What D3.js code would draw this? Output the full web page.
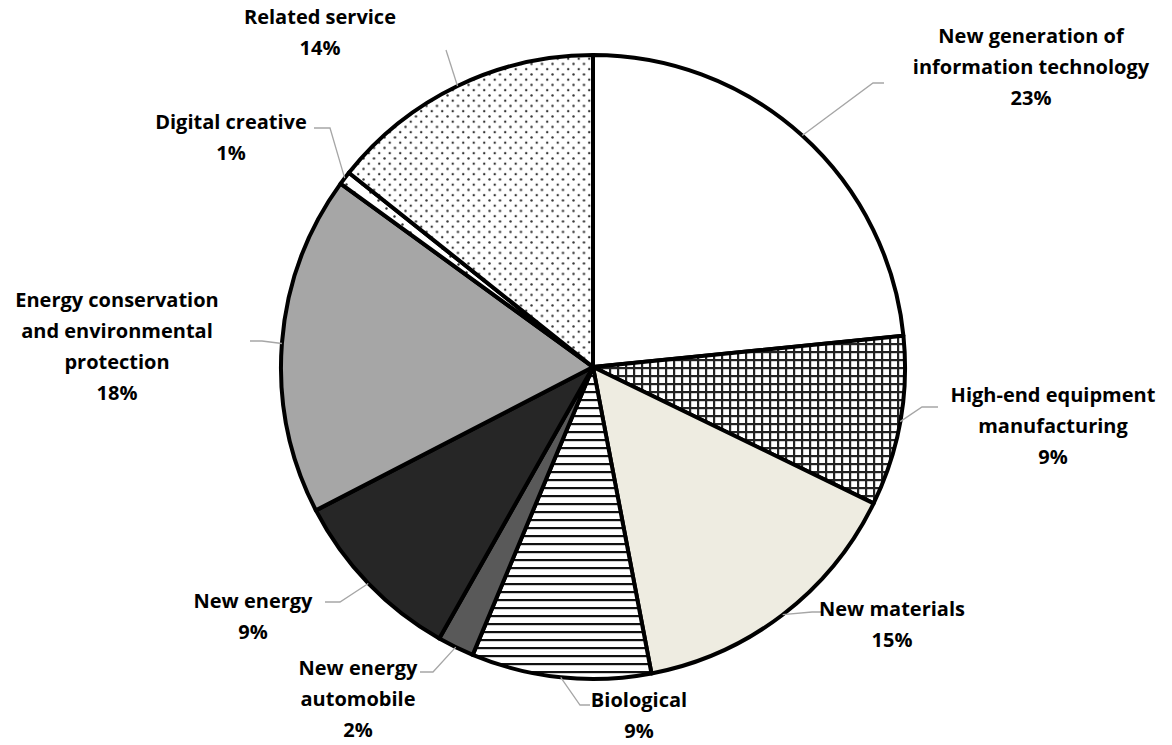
<!DOCTYPE html>
<html>
<head>
<meta charset="utf-8">
<script src="https://cdn.jsdelivr.net/npm/d3@7"></script>
<style>
  html, body { margin: 0; padding: 0; background: #fff; }
  svg { display: block; }
  .lbl { font-family: "Open Sans", "Lato", sans-serif; font-weight: 700; font-size: 20px; fill: #000; }
</style>
</head>
<body>
<svg id="chart" width="1172" height="745"></svg>
<script>
// Industry shares (percent), clockwise from 12 o'clock
const categories = [
  "New generation of information technology",
  "High-end equipment manufacturing",
  "New materials",
  "Biological",
  "New energy automobile",
  "New energy",
  "Energy conservation and environmental protection",
  "Digital creative",
  "Related service"
];
const shares = [23.4, 8.8, 14.8, 9.3, 1.9, 9.2, 17.6, 0.7, 14.3];

// Label text broken into lines
const labelLines = [
  ["New generation of", "information technology"],
  ["High-end equipment", "manufacturing"],
  ["New materials"],
  ["Biological"],
  ["New energy", "automobile"],
  ["New energy"],
  ["Energy conservation", "and environmental", "protection"],
  ["Digital creative"],
  ["Related service"]
];

// Fill for each slice
const fills = ["#ffffff", "url(#grid)", "#eeece1", "url(#hlines)", "#595959", "#262626", "#a6a6a6", "url(#dotsSparse)", "url(#dots)"];

// Label anchor (centre of text block, first baseline) and leader line waypoints
const labelPos = [
  [1031, 43], [1053, 402], [892, 616], [639, 707], [358, 675],
  [253, 608], [117, 307], [231, 129], [320, 24]
];
const leaderEnds = [
  [[873, 83], [884, 83]],
  [[922, 407], [938, 407]],
  [[812, 612], [822, 612]],
  [[580, 705], [590, 705]],
  [[433, 672], [420, 672]],
  [[340, 602], [325, 602]],
  [[262, 341], [250, 341]],
  [[330, 128], [314, 128]],
  [[446, 50], [446, 50]]
];

const svg = d3.select("#chart");
const defs = svg.append("defs");

// Small grid pattern
const grid = defs.append("pattern").attr("id", "grid").attr("patternUnits", "userSpaceOnUse")
  .attr("width", 8).attr("height", 8);
grid.append("rect").attr("width", 8).attr("height", 8).attr("fill", "#fff");
grid.append("rect").attr("x", 0).attr("y", 0).attr("width", 8).attr("height", 2.2).attr("fill", "#222");
grid.append("rect").attr("x", 0).attr("y", 0).attr("width", 2.2).attr("height", 8).attr("fill", "#222");

// Horizontal line pattern
const hl = defs.append("pattern").attr("id", "hlines").attr("patternUnits", "userSpaceOnUse")
  .attr("width", 8).attr("height", 8);
hl.append("rect").attr("width", 8).attr("height", 8).attr("fill", "#fff");
hl.append("rect").attr("x", 0).attr("y", 0).attr("width", 8).attr("height", 2.2).attr("fill", "#111");

// Dotted patterns
function dotPattern(id, step) {
  const p = defs.append("pattern").attr("id", id).attr("patternUnits", "userSpaceOnUse")
    .attr("width", step).attr("height", step);
  p.append("rect").attr("width", step).attr("height", step).attr("fill", "#fff");
  p.append("circle").attr("cx", 1.5).attr("cy", 1.5).attr("r", 1.2).attr("fill", "#333");
  p.append("circle").attr("cx", step / 2 + 1.5).attr("cy", step / 2 + 1.5).attr("r", 1.2).attr("fill", "#333");
}
dotPattern("dots", 10.5);
dotPattern("dotsSparse", 16);

const cx = 593, cy = 367, R = 312;

const pie = d3.pie().sort(null).value(d => d.v);
const data = pie(shares.map((v, i) => ({ v, i })));
const arc = d3.arc().innerRadius(0).outerRadius(R);

const g = svg.append("g").attr("transform", `translate(${cx},${cy})`);
g.selectAll("path.slice").data(data).join("path")
  .attr("class", "slice")
  .attr("d", arc)
  .attr("fill", d => fills[d.data.i])
  .attr("stroke", "#000")
  .attr("stroke-width", 4)
  .attr("stroke-linejoin", "round");

// Leader lines from slice mid-angle on the rim
const leaders = svg.append("g").attr("fill", "none").attr("stroke", "#a6a6a6").attr("stroke-width", 1.3);
data.forEach(d => {
  const a = (d.startAngle + d.endAngle) / 2;
  const p0 = [cx + R * Math.sin(a), cy - R * Math.cos(a)];
  const pts = [p0, ...leaderEnds[d.data.i]];
  leaders.append("path").attr("d", d3.line()(pts));
});

// Labels
const lh = 31;
data.forEach(d => {
  const i = d.data.i;
  const lines = labelLines[i].concat([Math.round(shares[i]) + "%"]);
  const t = svg.append("text").attr("class", "lbl").attr("text-anchor", "middle")
    .attr("x", labelPos[i][0]).attr("y", labelPos[i][1]);
  lines.forEach((s, k) => {
    t.append("tspan").attr("x", labelPos[i][0]).attr("dy", k === 0 ? 0 : lh).text(s);
  });
});
</script>
</body>
</html>
